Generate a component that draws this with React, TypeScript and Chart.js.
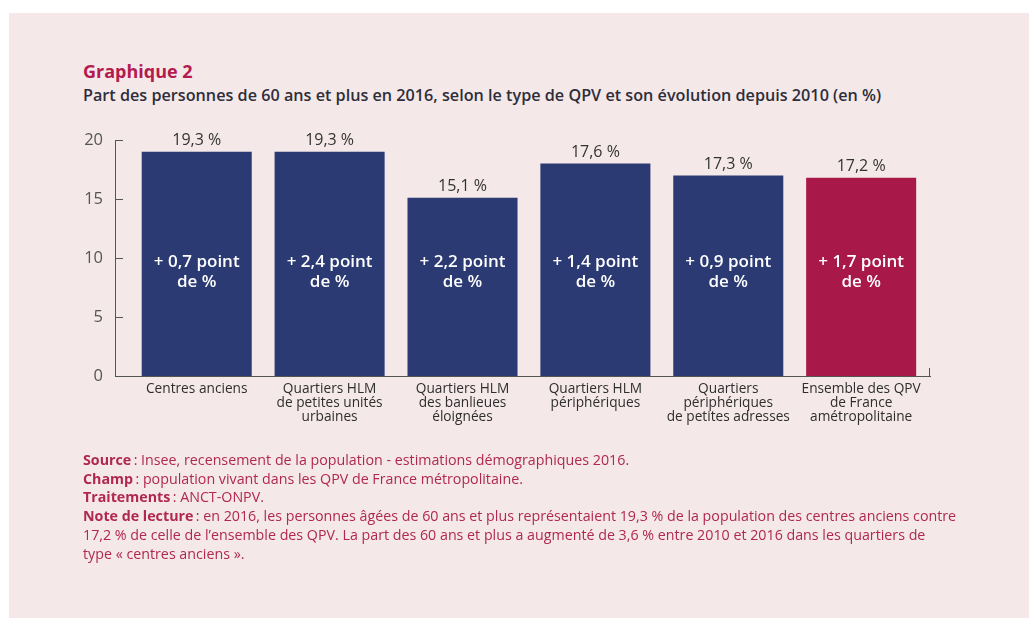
import React, { useEffect, useRef } from "react";
import { Chart, registerables } from "chart.js";

Chart.register(...registerables);

const categories: string[][] = [
  ["Centres anciens"],
  ["Quartiers HLM", "de petites unités", "urbaines"],
  ["Quartiers HLM", "des banlieues", "éloignées"],
  ["Quartiers HLM", "périphériques"],
  ["Quartiers", "périphériques", "de petites adresses"],
  ["Ensemble des QPV", "de France", "amétropolitaine"],
];
// bar heights as drawn in the picture
const barHeights: number[] = [19.0, 19.0, 15.1, 18.0, 17.0, 16.8];
// value labels printed above the bars
const shareLabels: string[] = ["19,3 %", "19,3 %", "15,1 %", "17,6 %", "17,3 %", "17,2 %"];
const evolutionLabels: string[] = [
  "+ 0,7 point",
  "+ 2,4 point",
  "+ 2,2 point",
  "+ 1,4 point",
  "+ 0,9 point",
  "+ 1,7 point",
];
const evolutionUnit = "de %";
const yTicks: number[] = [0, 5, 10, 15, 20];
const barColors: string[] = ["#2b3a73", "#2b3a73", "#2b3a73", "#2b3a73", "#2b3a73", "#a8194a"];

const FONT = "'Open Sans', Lato, sans-serif";

const decorPlugin = {
  id: "decor",
  afterDatasetsDraw(chart: any) {
    const { ctx } = chart;
    const y = chart.scales.y;
    ctx.save();
    // inward y ticks
    ctx.strokeStyle = "#555";
    ctx.lineWidth = 1;
    yTicks.forEach((v) => {
      if (v === 0) return;
      const py = Math.round(y.getPixelForValue(v)) + 0.5;
      ctx.beginPath();
      ctx.moveTo(chart.chartArea.left, py);
      ctx.lineTo(chart.chartArea.left + 8, py);
      ctx.stroke();
    });
    // right end tick on x axis
    const rx = Math.round(chart.chartArea.right) - 0.5;
    ctx.beginPath();
    ctx.moveTo(rx, chart.chartArea.bottom);
    ctx.lineTo(rx, chart.chartArea.bottom - 8);
    ctx.stroke();

    const meta = chart.getDatasetMeta(0);
    meta.data.forEach((bar: any, i: number) => {
      // value label above
      ctx.fillStyle = "#333";
      ctx.font = `400 16px ${FONT}`;
      ctx.textAlign = "center";
      ctx.textBaseline = "middle";
      ctx.fillText(shareLabels[i], bar.x, bar.y - 11);
      // inner label
      ctx.fillStyle = "#ffffff";
      ctx.font = `600 17px ${FONT}`;
      const mid = y.getPixelForValue(8.8);
      ctx.fillText(evolutionLabels[i], bar.x, mid - 10);
      ctx.fillText(evolutionUnit, bar.x, mid + 10);
    });
    ctx.restore();
  },
};

export default function App() {
  const ref = useRef<HTMLCanvasElement | null>(null);
  useEffect(() => {
    document.body.style.margin = "0";
    const chart = new Chart(ref.current as HTMLCanvasElement, {
      type: "bar",
      data: {
        datasets: [
          {
            data: barHeights.map((v, i) => ({ x: i, y: v })),
            backgroundColor: barColors,
            borderWidth: 0,
            barPercentage: 0.828,
            categoryPercentage: 1,
          },
        ],
      },
      options: {
        animation: false,
        responsive: false,
        layout: { padding: { left: 0, top: 140, right: 100, bottom: 182 } },
        plugins: { legend: { display: false }, tooltip: { enabled: false } },
        scales: {
          x: {
            type: "linear",
            offset: false,
            min: -0.615,
            max: 5.518,
            grid: { display: false, drawTicks: false, offset: false },
            border: { display: true, color: "#555", width: 1 },
            afterBuildTicks: (axis: any) => {
              axis.ticks = categories.map((_, i) => ({ value: i }));
            },
            afterFit: (axis: any) => {
              axis.height = 60;
            },
            ticks: {
              autoSkip: false,
              maxRotation: 0,
              padding: 6,
              color: "#2e2e2e",
              font: { family: FONT, size: 13.7, weight: 500, lineHeight: 1.03 },
              callback: (v: any) => categories[v] ?? "",
            },
          },
          y: {
            min: 0,
            max: 20,
            afterFit: (axis: any) => {
              axis.width = 115;
            },
            afterBuildTicks: (axis: any) => {
              axis.ticks = yTicks.map((v) => ({ value: v }));
            },
            grid: { display: false, drawTicks: false },
            border: { display: true, color: "#555", width: 1 },
            ticks: {
              padding: 12,
              color: "#555",
              font: { family: FONT, size: 16.5 },
            },
          },
        },
      } as any,
      plugins: [decorPlugin],
    });
    return () => chart.destroy();
  }, []);

  const noteStyle: React.CSSProperties = { fontWeight: 700 };
  return (
    <div style={{ position: "fixed", left: 0, top: 0, width: 1030, height: 618, background: "#ffffff", overflow: "hidden" }}>
      <div style={{ position: "absolute", left: 9, top: 13, width: 1020, height: 605, background: "#f5e8e9" }} />
      <div style={{ position: "absolute", left: 83, top: 60, fontFamily: FONT, fontSize: 18, lineHeight: "22px", fontWeight: 700, color: "#b31a4d", whiteSpace: "nowrap" }}>
        Graphique 2
      </div>
      <div style={{ position: "absolute", left: 83, top: 84, fontFamily: FONT, fontSize: 16.2, lineHeight: "22px", fontWeight: 600, color: "#2e2e3a", whiteSpace: "nowrap" }}>
        Part des personnes de 60 ans et plus en 2016, selon le type de QPV et son évolution depuis 2010 (en %)
      </div>
      <canvas ref={ref} width={1030} height={618} style={{ position: "absolute", left: 0, top: 0 }} />
      <div style={{ position: "absolute", left: 83, top: 451, fontFamily: FONT, fontSize: 14.25, lineHeight: "18.7px", color: "#b0284f", whiteSpace: "nowrap" }}>
        <div><span style={noteStyle}>Source</span>{"\u2009: Insee, recensement de la population - estimations démographiques 2016."}</div>
        <div><span style={noteStyle}>Champ</span>{"\u2009: population vivant dans les QPV de France métropolitaine."}</div>
        <div><span style={noteStyle}>Traitements</span>{"\u2009: ANCT-ONPV."}</div>
        <div><span style={noteStyle}>Note de lecture</span>{"\u2009: en 2016, les personnes âgées de 60 ans et plus représentaient 19,3 % de la population des centres anciens contre"}</div>
        <div>{"17,2 % de celle de l’ensemble des QPV. La part des 60 ans et plus a augmenté de 3,6 % entre 2010 et 2016 dans les quartiers de"}</div>
        <div>{"type « centres anciens »."}</div>
      </div>
    </div>
  );
}
